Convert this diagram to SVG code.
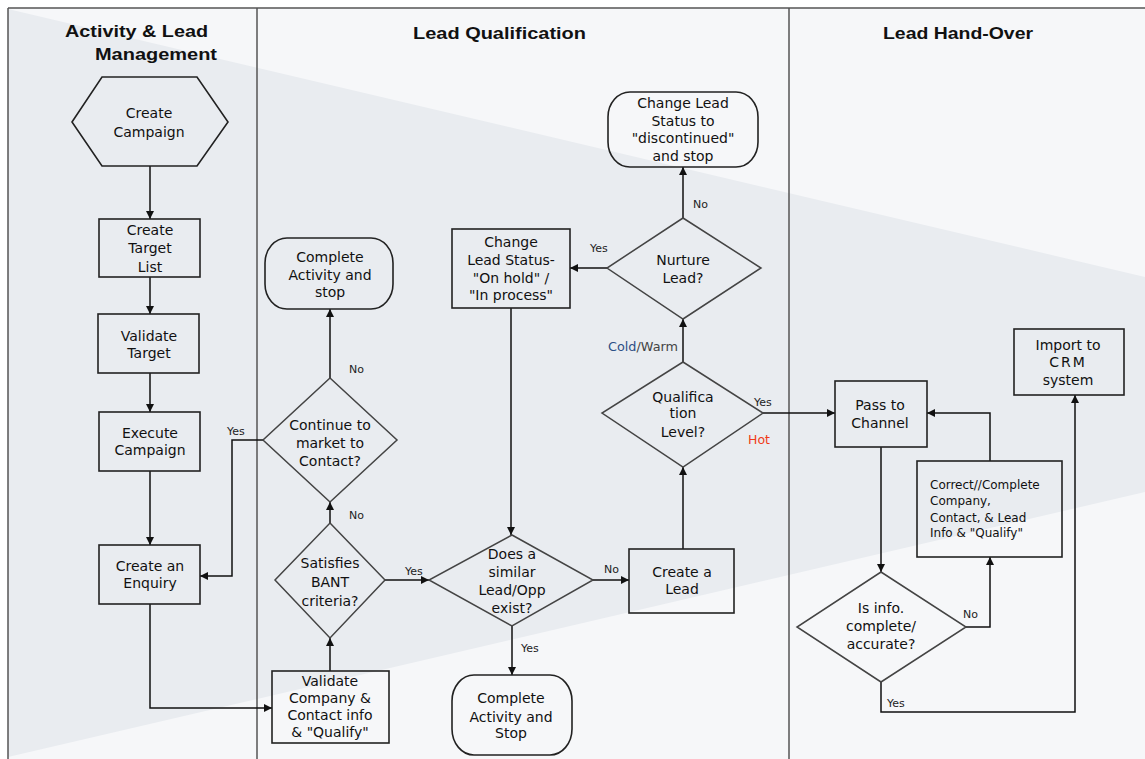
<svg xmlns="http://www.w3.org/2000/svg" width="1145" height="759" viewBox="0 0 1145 759">
<style>
.lane{stroke:#555;stroke-width:1.5;fill:none}
.box{fill:none;stroke:#222;stroke-width:1.6}
.dia{fill:none;stroke:#444;stroke-width:1.5}
.t{font-family:"DejaVu Sans",Verdana,sans-serif;font-size:14px;fill:#111;text-anchor:middle}
.s{font-family:"DejaVu Sans",Verdana,sans-serif;font-size:12px;fill:#111}
.lbl{font-family:"DejaVu Sans",Verdana,sans-serif;font-size:11px;fill:#222}
.hd{font-family:"Liberation Sans",Arial,sans-serif;font-size:17px;font-weight:bold;fill:#111}
.c{fill:none;stroke:#111;stroke-width:1.5}
</style>
<defs>
<marker id="ah" viewBox="0 0 10 10" refX="10" refY="5" markerWidth="8" markerHeight="8" markerUnits="userSpaceOnUse" orient="auto">
<path d="M0,0 L10,5 L0,10 z" fill="#111"/>
</marker>
</defs>
<g id="background">
<rect x="0" y="0" width="1145" height="759" fill="#ffffff"/>
<rect x="8" y="8" width="1137" height="751" fill="#f6f7f9"/>
<polygon points="8,9 1145,277 1145,492 8,757" fill="#e9ecf0"/>
</g>
<g id="lanes">
<line class="lane" x1="8" y1="8" x2="1145" y2="8"/>
<line class="lane" x1="8" y1="8" x2="8" y2="759"/>
<line class="lane" x1="257" y1="8" x2="257" y2="759"/>
<line class="lane" x1="789" y1="8" x2="789" y2="759"/>
<text class="hd" x="65" y="37" textLength="143" lengthAdjust="spacingAndGlyphs">Activity &amp; Lead</text>
<text class="hd" x="95" y="60" textLength="122" lengthAdjust="spacingAndGlyphs">Management</text>
<text class="hd" x="413" y="39" textLength="173" lengthAdjust="spacingAndGlyphs">Lead Qualification</text>
<text class="hd" x="883" y="39" textLength="150" lengthAdjust="spacingAndGlyphs">Lead Hand-Over</text>
</g>
<g id="connectors">
<path class="c" d="M150,166 V219" marker-end="url(#ah)"/>
<path class="c" d="M150,277 V314" marker-end="url(#ah)"/>
<path class="c" d="M150,373 V412" marker-end="url(#ah)"/>
<path class="c" d="M150,471 V545" marker-end="url(#ah)"/>
<path class="c" d="M150,604 V708 H272" marker-end="url(#ah)"/>
<path class="c" d="M330,671 V638" marker-end="url(#ah)"/>
<path class="c" d="M330,523 V502" marker-end="url(#ah)"/>
<path class="c" d="M330,378 V309" marker-end="url(#ah)"/>
<path class="c" d="M263,440 H232 V576 H200" marker-end="url(#ah)"/>
<path class="c" d="M385,580 H429" marker-end="url(#ah)"/>
<path class="c" d="M593,580 H629" marker-end="url(#ah)"/>
<path class="c" d="M512,626 V675" marker-end="url(#ah)"/>
<path class="c" d="M683,549 V467" marker-end="url(#ah)"/>
<path class="c" d="M683,362 V319" marker-end="url(#ah)"/>
<path class="c" d="M683,218 V167" marker-end="url(#ah)"/>
<path class="c" d="M607,268 H570" marker-end="url(#ah)"/>
<path class="c" d="M511,308 V535" marker-end="url(#ah)"/>
<path class="c" d="M763,413 H835" marker-end="url(#ah)"/>
<path class="c" d="M881,447 V572" marker-end="url(#ah)"/>
<path class="c" d="M966,627 H990 V557" marker-end="url(#ah)"/>
<path class="c" d="M990,461 V413 H927" marker-end="url(#ah)"/>
<path class="c" d="M881,682 V712 H1075 V395" marker-end="url(#ah)"/>
<text class="lbl" x="227" y="435">Yes</text>
<text class="lbl" x="349" y="373">No</text>
<text class="lbl" x="349" y="519">No</text>
<text class="lbl" x="405" y="575">Yes</text>
<text class="lbl" x="604" y="573">No</text>
<text class="lbl" x="521" y="652">Yes</text>
<text class="lbl" x="590" y="252">Yes</text>
<text class="lbl" x="693" y="208">No</text>
<text class="lbl" x="754" y="406">Yes</text>
<text x="748" y="444" font-family="DejaVu Sans,Verdana,sans-serif" font-size="12.5" fill="#f03a17">Hot</text>
<text x="678" y="351" font-family="DejaVu Sans,Verdana,sans-serif" font-size="12" text-anchor="end" textLength="70" lengthAdjust="spacingAndGlyphs"><tspan fill="#2c4f86">Cold</tspan><tspan fill="#444">/Warm</tspan></text>
<text class="lbl" x="963" y="618">No</text>
<text class="lbl" x="887" y="707">Yes</text>
</g>
<g id="create-campaign">
<polygon class="box" points="72,122 102,77 197,77 228,122 197,166 102,166" stroke="#333"/>
<text class="t" x="149" y="118">Create</text>
<text class="t" x="149" y="137">Campaign</text>
</g>
<g id="create-target-list">
<rect class="box" x="99" y="219" width="101" height="58"/>
<text class="t" x="150" y="235">Create</text>
<text class="t" x="150" y="253">Target</text>
<text class="t" x="150" y="272">List</text>
</g>
<g id="validate-target">
<rect class="box" x="98" y="314" width="101" height="59"/>
<text class="t" x="149" y="341">Validate</text>
<text class="t" x="149" y="358">Target</text>
</g>
<g id="execute-campaign">
<rect class="box" x="99" y="412" width="101" height="59"/>
<text class="t" x="150" y="438">Execute</text>
<text class="t" x="150" y="455">Campaign</text>
</g>
<g id="create-enquiry">
<rect class="box" x="99" y="545" width="101" height="59"/>
<text class="t" x="150" y="571">Create an</text>
<text class="t" x="150" y="588">Enquiry</text>
</g>
<g id="validate-company">
<rect class="box" x="272" y="671" width="117" height="72"/>
<text class="t" x="330" y="686">Validate</text>
<text class="t" x="330" y="703">Company &amp;</text>
<text class="t" x="330" y="720">Contact info</text>
<text class="t" x="330" y="737">&amp; "Qualify"</text>
</g>
<g id="satisfies-bant">
<polygon class="dia" points="330,523 385,580 330,638 275,580"/>
<text class="t" x="330" y="568">Satisfies</text>
<text class="t" x="330" y="587">BANT</text>
<text class="t" x="330" y="606">criteria?</text>
</g>
<g id="continue-market">
<polygon class="dia" points="330,378 397,440 330,502 263,440"/>
<text class="t" x="330" y="430">Continue to</text>
<text class="t" x="330" y="448">market to</text>
<text class="t" x="330" y="466">Contact?</text>
</g>
<g id="complete-activity-stop-1">
<rect class="box" x="265" y="238" width="128" height="71" rx="22" ry="25"/>
<text class="t" x="330" y="262">Complete</text>
<text class="t" x="330" y="280">Activity and</text>
<text class="t" x="330" y="297">stop</text>
</g>
<g id="similar-lead-exists">
<polygon class="dia" points="512,535 593,580 512,626 429,580"/>
<text class="t" x="512" y="559">Does a</text>
<text class="t" x="512" y="577">similar</text>
<text class="t" x="512" y="595">Lead/Opp</text>
<text class="t" x="512" y="613">exist?</text>
</g>
<g id="create-lead">
<rect class="box" x="629" y="549" width="105" height="64"/>
<text class="t" x="682" y="577">Create a</text>
<text class="t" x="682" y="594">Lead</text>
</g>
<g id="complete-activity-stop-2">
<rect class="box" x="452" y="675" width="120" height="80" rx="22" ry="26"/>
<text class="t" x="511" y="703">Complete</text>
<text class="t" x="511" y="722">Activity and</text>
<text class="t" x="511" y="738">Stop</text>
</g>
<g id="qualification-level">
<polygon class="dia" points="683,362 763,413 683,467 602,413"/>
<text class="t" x="683" y="402">Qualifica</text>
<text class="t" x="683" y="418">tion</text>
<text class="t" x="683" y="437">Level?</text>
</g>
<g id="nurture-lead">
<polygon class="dia" points="683,218 761,268 683,319 607,268"/>
<text class="t" x="683" y="265">Nurture</text>
<text class="t" x="683" y="283">Lead?</text>
</g>
<g id="status-discontinued">
<rect class="box" x="608" y="92" width="150" height="75" rx="22" ry="25"/>
<text class="t" x="683" y="108">Change Lead</text>
<text class="t" x="683" y="126">Status to</text>
<text class="t" x="683" y="143">"discontinued"</text>
<text class="t" x="683" y="161">and stop</text>
</g>
<g id="status-on-hold">
<rect class="box" x="452" y="229" width="118" height="79"/>
<text class="t" x="511" y="247">Change</text>
<text class="t" x="511" y="265">Lead Status-</text>
<text class="t" x="511" y="283">"On hold" /</text>
<text class="t" x="511" y="300">"In process"</text>
</g>
<g id="pass-to-channel">
<rect class="box" x="835" y="381" width="92" height="66"/>
<text class="t" x="880" y="410">Pass to</text>
<text class="t" x="880" y="428">Channel</text>
</g>
<g id="import-crm">
<rect class="box" x="1014" y="329" width="110" height="66"/>
<text class="t" x="1068" y="350">Import to</text>
<text class="t" x="1068" y="367" letter-spacing="2">CRM</text>
<text class="t" x="1068" y="385">system</text>
</g>
<g id="correct-complete">
<rect class="box" x="917" y="461" width="145" height="96"/>
<text class="s" x="930" y="489">Correct//Complete</text>
<text class="s" x="930" y="505">Company,</text>
<text class="s" x="930" y="522">Contact, &amp; Lead</text>
<text class="s" x="930" y="537">Info &amp; "Qualify"</text>
</g>
<g id="info-complete">
<polygon class="dia" points="881,572 966,627 881,682 797,627"/>
<text class="t" x="881" y="613">Is info.</text>
<text class="t" x="881" y="631">complete/</text>
<text class="t" x="881" y="649">accurate?</text>
</g>
</svg>
